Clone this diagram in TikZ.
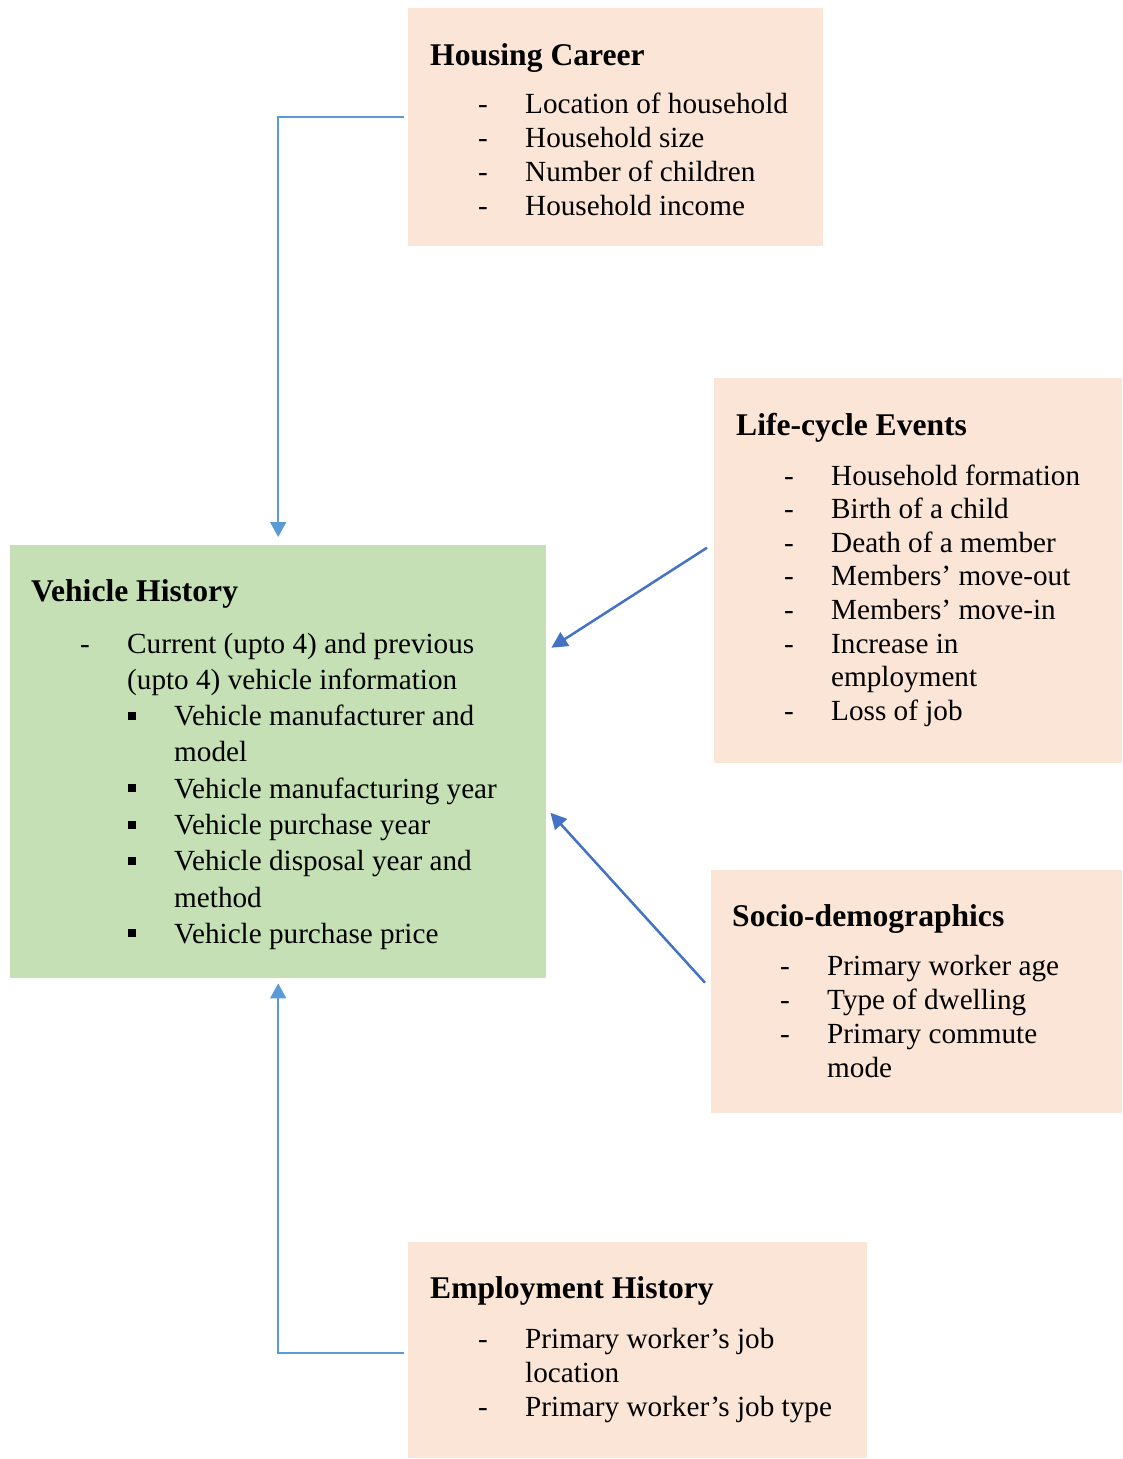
\documentclass[tikz,border=0pt]{standalone}
\usepackage{fontspec}
\setmainfont{Liberation Serif}
\usepackage{xcolor}
\usepackage{tikz}
\usetikzlibrary{
    arrows.meta,
    positioning
}
\definecolor{peach}{HTML}{FBE5D6}
\definecolor{leafgreen}{HTML}{C5E0B4}
\definecolor{linkblue}{HTML}{5B9BD5}
\definecolor{darkblue}{HTML}{4472C4}
\tikzstyle{box} = [
    rectangle,
    anchor=north west,
    inner sep=0pt,
    draw=none,
    fill=peach
]
\tikzstyle{title} = [
    anchor=base west,
    inner sep=0pt,
    font={\fontsize{31.6pt}{36pt}\selectfont\bfseries}
]
\tikzstyle{item} = [
    anchor=base west,
    inner sep=0pt,
    font={\fontsize{29.2pt}{34pt}\selectfont}
]
\tikzstyle{elbow} = [
    draw=linkblue,
    line width=2pt,
    -{Triangle[length=15pt,width=16pt]}
]
\tikzstyle{arrow} = [
    draw=darkblue,
    line width=2.5pt,
    -{Triangle[length=16pt,width=16pt]}
]
\newcommand{\sqmark}{\rule[6pt]{8pt}{8pt}}

\begin{document}
\begin{tikzpicture}[x=1pt, y=-1pt]
    \useasboundingbox (0,0) rectangle (1123,1459);

    % boxes
    \node[box, minimum width=415pt, minimum height=238pt] (housing) at (408,8) {};
    \node[box, minimum width=408pt, minimum height=385pt] (life) at (714,378) {};
    \node[box, minimum width=411pt, minimum height=243pt] (socio) at (711,870) {};
    \node[box, minimum width=459pt, minimum height=216pt] (employ) at (408,1242) {};
    \node[box, fill=leafgreen, minimum width=536pt, minimum height=433pt] (vehicle) at (10,545) {};

    % housing career
    \node[title] (housingtitle) at (430,65) {Housing Career};
    \foreach \t [count=\i] in {Location of household, Household size, Number of children, Household income} {
        \node[item] (hcdash\i) at (478,{113+34*(\i-1)}) {-};
        \node[item] (hctext\i) at (525,{113+34*(\i-1)}) {\t};
    }

    % life-cycle events
    \node[title] (lifetitle) at (736,435) {Life-cycle Events};
    \foreach \m/\t [count=\i] in {-/Household formation, -/Birth of a child, -/Death of a member,
        -/Members’ move-out, -/Members’ move-in, -/Increase in, /employment, -/Loss of job} {
        \node[item] (ledash\i) at (784,{485+33.6*(\i-1)}) {\m};
        \node[item] (letext\i) at (831,{485+33.6*(\i-1)}) {\t};
    }

    % socio-demographics
    \node[title] (sociotitle) at (732,926) {Socio-demographics};
    \foreach \m/\t [count=\i] in {-/Primary worker age, -/Type of dwelling, -/Primary commute, /mode} {
        \node[item] (sddash\i) at (780,{975+34*(\i-1)}) {\m};
        \node[item] (sdtext\i) at (827,{975+34*(\i-1)}) {\t};
    }

    % employment history
    \node[title] (employtitle) at (430,1298) {Employment History};
    \foreach \m/\t [count=\i] in {-/Primary worker’s job, /location, -/Primary worker’s job type} {
        \node[item] (ehdash\i) at (478,{1348+34*(\i-1)}) {\m};
        \node[item] (ehtext\i) at (525,{1348+34*(\i-1)}) {\t};
    }

    % vehicle history
    \node[title] (vehicletitle) at (31,601) {Vehicle History};
    \foreach \mx/\m/\tx/\t [count=\i] in {
        80/-/127/Current (upto 4) and previous,
        80//127/(upto 4) vehicle information,
        128/\sqmark/174/Vehicle manufacturer and,
        128//174/model,
        128/\sqmark/174/Vehicle manufacturing year,
        128/\sqmark/174/Vehicle purchase year,
        128/\sqmark/174/Vehicle disposal year and,
        128//174/method,
        128/\sqmark/174/Vehicle purchase price} {
        \node[item] (vhmark\i) at (\mx,{653+36.3*(\i-1)}) {\m};
        \node[item] (vhtext\i) at (\tx,{653+36.3*(\i-1)}) {\t};
    }

    % connectors
    \draw[elbow] ([xshift=-4pt,yshift=10pt]housing.west) -| ([yshift=8pt]vehicle.north);
    \draw[elbow] ([xshift=-4pt,yshift=-3pt]employ.west) -| ([yshift=-5pt]vehicle.south);
    \draw[arrow] ([xshift=-7pt,yshift=23pt]life.west) -- ([xshift=5pt,yshift=114pt]vehicle.east);
    \draw[arrow] ([xshift=-6pt,yshift=9pt]socio.west) -- ([xshift=4pt,yshift=-51pt]vehicle.east);
\end{tikzpicture}
\end{document}
